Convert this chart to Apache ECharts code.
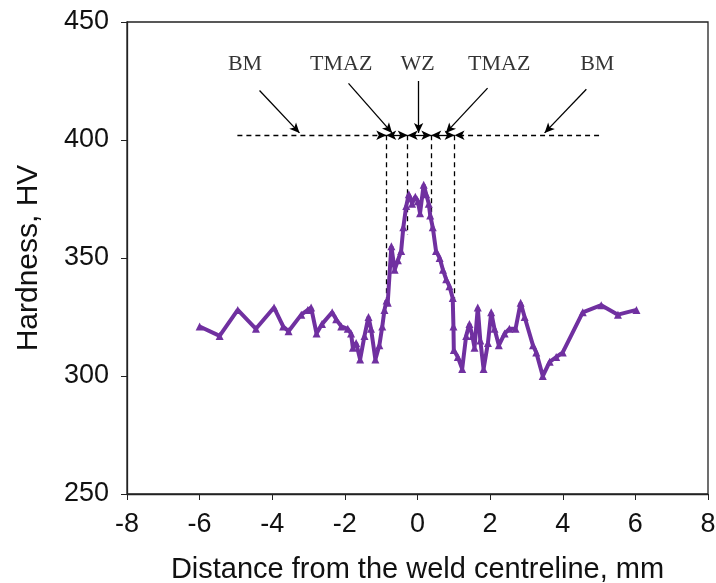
<!DOCTYPE html>
<html>
<head>
<meta charset="utf-8">
<script src="https://cdn.jsdelivr.net/npm/echarts@6/dist/echarts.min.js"></script>
<style>
  html, body { margin: 0; padding: 0; background: #fff; }
  #chart { width: 716px; height: 583px; }
</style>
</head>
<body>
<div id="chart"></div>
<script>
// distance from weld centreline (mm) and hardness (HV)
const distance = [
  -6.0, -5.45, -4.95, -4.45, -3.95, -3.7, -3.55, -3.2, -3.02, -2.93,
  -2.78, -2.63, -2.35, -2.24, -2.1, -1.92, -1.83, -1.78, -1.69, -1.58,
  -1.46, -1.35, -1.28, -1.16, -1.05, -0.97, -0.91, -0.85, -0.82, -0.72,
  -0.63, -0.54, -0.45, -0.39, -0.31, -0.24, -0.15, -0.06, 0.01, 0.07,
  0.17, 0.24, 0.31, 0.35, 0.42, 0.51, 0.61, 0.7, 0.79, 0.88,
  0.97, 0.99, 1.0, 1.11, 1.23, 1.34, 1.43, 1.51, 1.57, 1.66,
  1.73, 1.82, 1.94, 2.03, 2.12, 2.24, 2.4, 2.53, 2.7, 2.84,
  2.95, 3.18, 3.27, 3.45, 3.64, 3.82, 4.0, 4.55, 5.06, 5.52, 6.03
];
const hardness = [
  321, 317, 328, 320, 329, 321, 319, 326, 328, 329,
  318, 322, 327, 324, 321, 320, 318, 312, 314, 307,
  317, 325, 320, 307, 313, 321, 328, 332, 331, 355,
  345, 349, 353, 363, 372, 377, 373, 376, 374, 369,
  381, 377, 373, 368, 363, 353, 350, 345, 341, 338,
  333, 321, 311, 308, 303, 317, 322, 317, 312, 329,
  315, 303, 314, 327, 320, 313, 318, 320, 320, 331,
  325, 313, 310, 300, 306, 308, 310, 327, 330, 326, 328
];

// zone annotation (data units)
const zoneLevel = 402;
const zoneBounds = [-0.86, -0.27, 0.38, 1.02];
const zoneBoundBottoms = [333, 360, 362, 332];
const baseLineEnds = [-4.96, 5.0];
const zoneLabels = ['BM', 'TMAZ', 'WZ', 'TMAZ', 'BM'];
const labelX = [-4.75, -2.1, 0.0, 2.25, 4.95];
const labelY = 432;
const arrowStart = [[-4.35, 421], [-1.9, 424], [0.03, 425], [1.93, 422], [4.65, 421.5]];
const arrowEnd = [[-3.25, 403], [-0.7, 403], [0.03, 403], [0.78, 403], [3.5, 403]];

const points = distance.map((d, i) => [d, hardness[i]]);

const dashed = { color: '#000', width: 1.3, type: [5, 4] };
const solid = { color: '#000', width: 1.3, type: 'solid' };
const lines = [];
// vertical zone boundaries
zoneBounds.forEach((x, i) => {
  lines.push([{ coord: [x, zoneLevel], symbol: 'none', lineStyle: dashed },
              { coord: [x, zoneBoundBottoms[i]], symbol: 'none' }]);
});
// horizontal base lines with arrows towards the weld
lines.push([{ coord: [baseLineEnds[0], zoneLevel], symbol: 'none', lineStyle: dashed },
            { coord: [zoneBounds[0], zoneLevel], symbol: 'arrow' }]);
lines.push([{ coord: [baseLineEnds[1], zoneLevel], symbol: 'none', lineStyle: dashed },
            { coord: [zoneBounds[3], zoneLevel], symbol: 'arrow' }]);
// small double arrows between boundaries
for (let i = 0; i < 3; i++) {
  lines.push([{ coord: [zoneBounds[i], zoneLevel], symbol: 'arrow', lineStyle: solid },
              { coord: [zoneBounds[i + 1], zoneLevel], symbol: 'arrow' }]);
}
// pointer arrows from labels
arrowStart.forEach((s, i) => {
  lines.push([{ coord: s, symbol: 'none', lineStyle: solid },
              { coord: arrowEnd[i], symbol: 'arrow' }]);
});

const axisFont = 'Liberation Sans';
const chart = echarts.init(document.getElementById('chart'));
chart.setOption({
  animation: false,
  backgroundColor: '#fff',
  grid: {
    left: 127, right: 8, top: 22, bottom: 89,
    outerBoundsMode: 'none',
    show: true, borderColor: '#222', borderWidth: 1.3, backgroundColor: 'transparent'
  },
  xAxis: {
    type: 'value', min: -8, max: 8, interval: 2,
    name: 'Distance from the weld centreline, mm',
    nameLocation: 'middle', nameGap: 61,
    nameTextStyle: { fontFamily: axisFont, fontSize: 29, color: '#111' },
    axisLine: { onZero: false, lineStyle: { color: '#222', width: 1.3 } },
    axisTick: { length: 6, lineStyle: { color: '#222' } },
    axisLabel: { fontFamily: axisFont, fontSize: 27, color: '#111', margin: 17 },
    splitLine: { show: false }
  },
  yAxis: {
    type: 'value', min: 250, max: 450, interval: 50,
    name: 'Hardness, HV',
    nameLocation: 'middle', nameGap: 83,
    nameTextStyle: { fontFamily: axisFont, fontSize: 30, color: '#111' },
    axisLine: { show: true, onZero: false, lineStyle: { color: '#222', width: 1.3 } },
    axisTick: { show: true, length: 6, lineStyle: { color: '#222' } },
    axisLabel: { fontFamily: axisFont, fontSize: 27, color: '#111', margin: 18 },
    splitLine: { show: false }
  },
  series: [
    {
      type: 'line',
      data: points,
      symbol: 'triangle',
      symbolSize: 8,
      showAllSymbol: true,
      lineStyle: { color: '#7030A0', width: 4 },
      itemStyle: { color: '#7030A0' },
      z: 3,
      markLine: {
        silent: true,
        symbolSize: [7, 10],
        label: { show: false },
        lineStyle: dashed,
        data: lines,
        z: 2
      }
    },
    {
      type: 'scatter',
      data: labelX.map((x, i) => ({ value: [x, labelY], name: zoneLabels[i] })),
      symbolSize: 0,
      silent: true,
      label: {
        show: true, position: 'inside', formatter: '{b}',
        fontFamily: 'Liberation Serif', fontSize: 22, color: '#000'
      }
    }
  ]
});
</script>
</body>
</html>
